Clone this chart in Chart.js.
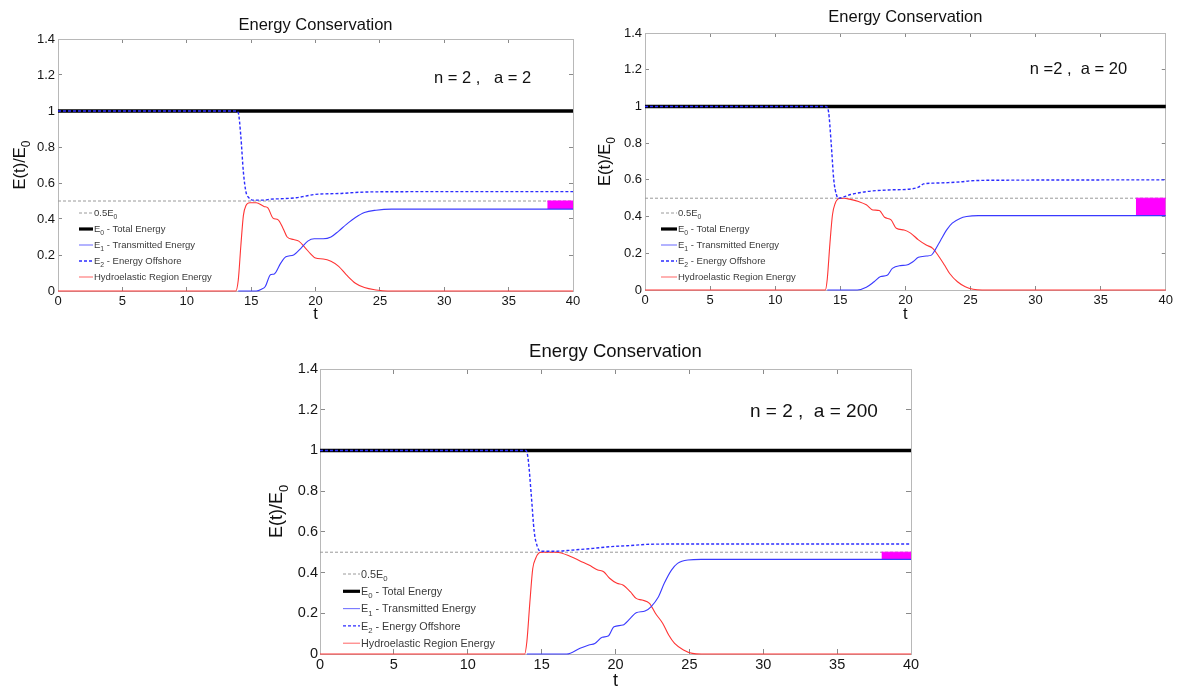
<!DOCTYPE html>
<html><head><meta charset="utf-8">
<script src="https://cdn.jsdelivr.net/npm/chart.js@4.4.1/dist/chart.umd.min.js"></script>
<style>
html,body{margin:0;padding:0;background:#fff;}
body{width:1180px;height:688px;position:relative;overflow:hidden;}
canvas{position:absolute;left:0;top:0;}
</style></head><body>
<canvas id="c1" width="1180" height="688"></canvas>
<canvas id="c2" width="1180" height="688"></canvas>
<canvas id="c3" width="1180" height="688"></canvas>
<script>
const FONT = "'Liberation Sans', Arial, Helvetica, sans-serif";

// ---- axes / labels ----
const xTicks = [0, 5, 10, 15, 20, 25, 30, 35, 40];
const yTicks = [0, 0.2, 0.4, 0.6, 0.8, 1, 1.2, 1.4];
const yTickLabels = ['0', '0.2', '0.4', '0.6', '0.8', '1', '1.2', '1.4'];
const chartTitle = 'Energy Conservation';
const xAxisLabel = 't';
const yAxisLabel = 'E(t)/E_0';
const legendLabels = ['0.5E_0', 'E_0 - Total Energy', 'E_1 - Transmitted Energy', 'E_2 - Energy Offshore', 'Hydroelastic Region Energy'];
const caseLabels = ['n = 2 ,   a = 2', 'n =2 ,  a = 20', 'n = 2 ,  a = 200'];

// ---- common series ----
const totalT = [0, 40];
const totalE = [1, 1];
const halfT = [0, 40];
const halfE = [0.5, 0.5];

// ---- a = 2 ----
const offT_a2 = [0, 13.8, 14.0, 14.2, 14.4, 14.6, 14.8, 15.1, 16.0, 16.5, 17.5, 18.5, 19.0, 20.0, 21.0, 22.0, 23.0, 24.0, 25.0, 30.0, 40];
const offE_a2 = [1, 1, 0.99, 0.86, 0.66, 0.55, 0.52, 0.505, 0.505, 0.51, 0.513, 0.518, 0.524, 0.537, 0.54, 0.542, 0.547, 0.55, 0.551, 0.552, 0.552];
const trT_a2 = [14, 15.4, 15.8, 16.1, 16.5, 16.8, 17.3, 17.7, 18.3, 18.9, 19.4, 19.9, 20.6, 21.2, 21.8, 22.4, 23.1, 23.8, 24.7, 25.9, 40];
const trE_a2 = [0, 0, 0.01, 0.025, 0.09, 0.095, 0.155, 0.19, 0.2, 0.24, 0.277, 0.29, 0.29, 0.3, 0.333, 0.37, 0.408, 0.436, 0.449, 0.455, 0.455];
const hyT_a2 = [0, 13.8, 14.0, 14.2, 14.4, 14.6, 14.9, 15.4, 16.0, 16.3, 16.7, 17.1, 17.5, 17.8, 18.3, 18.7, 19.2, 19.6, 20.0, 20.6, 21.2, 21.8, 22.4, 23.1, 23.8, 24.7, 25.6, 40];
const hyE_a2 = [0, 0, 0.06, 0.25, 0.42, 0.475, 0.49, 0.49, 0.47, 0.462, 0.405, 0.395, 0.345, 0.3, 0.286, 0.277, 0.24, 0.208, 0.183, 0.178, 0.165, 0.137, 0.09, 0.043, 0.019, 0.006, 0, 0];
const gapT_a2 = [38, 40];
const gapTop_a2 = [0.5, 0.5];
const gapBottom_a2 = 0.455;

// ---- a = 20 ----
const offT_a20 = [0, 13.9, 14.1, 14.3, 14.5, 14.7, 14.85, 15.8, 17.0, 18.7, 20.4, 21.0, 21.4, 22.1, 23.3, 24.4, 25.0, 27.3, 40];
const offE_a20 = [1, 1, 0.97, 0.8, 0.6, 0.52, 0.5, 0.52, 0.536, 0.545, 0.55, 0.56, 0.578, 0.582, 0.585, 0.59, 0.595, 0.598, 0.6];
const trT_a20 = [14, 16.3, 17.0, 17.6, 18.1, 18.6, 19.0, 19.6, 20.1, 20.6, 21.0, 21.6, 22.0, 22.3, 22.7, 23.2, 23.6, 24.2, 24.7, 25.6, 40];
const trE_a20 = [0, 0, 0.015, 0.045, 0.073, 0.08, 0.118, 0.133, 0.136, 0.155, 0.178, 0.185, 0.19, 0.22, 0.27, 0.33, 0.364, 0.39, 0.4, 0.405, 0.405];
const hyT_a20 = [0, 13.85, 14.0, 14.2, 14.4, 14.6, 14.9, 15.3, 15.7, 16.4, 17.0, 17.5, 18.0, 18.4, 18.9, 19.3, 19.9, 20.4, 21.0, 21.6, 22.1, 22.6, 23.0, 23.4, 24.0, 24.6, 25.2, 25.9, 40];
const hyE_a20 = [0, 0, 0.06, 0.25, 0.41, 0.47, 0.498, 0.5, 0.495, 0.482, 0.464, 0.436, 0.433, 0.396, 0.382, 0.336, 0.327, 0.31, 0.273, 0.245, 0.227, 0.18, 0.136, 0.09, 0.045, 0.018, 0.004, 0, 0];
const gapT_a20 = [37.7, 40];
const gapTop_a20 = [0.5, 0.5];
const gapBottom_a20 = 0.405;

// ---- a = 200 ----
const offT_a200 = [0, 13.95, 14.1, 14.3, 14.5, 14.7, 14.9, 16.0, 17.0, 18.5, 19.6, 20.8, 22.3, 23.5, 40];
const offE_a200 = [1, 1, 0.95, 0.78, 0.6, 0.53, 0.505, 0.505, 0.51, 0.519, 0.527, 0.532, 0.539, 0.54, 0.54];
const trT_a200 = [14, 16.7, 17.6, 18.2, 18.6, 19.1, 19.5, 19.9, 20.5, 21.0, 21.4, 22.0, 22.4, 22.9, 23.3, 23.8, 24.2, 24.9, 25.8, 40];
const trE_a200 = [0, 0, 0.028, 0.044, 0.052, 0.082, 0.088, 0.134, 0.142, 0.175, 0.203, 0.211, 0.232, 0.28, 0.347, 0.413, 0.445, 0.462, 0.465, 0.465];
const hyT_a200 = [0, 13.85, 14.0, 14.2, 14.4, 14.6, 14.8, 15.0, 16.0, 17.0, 17.6, 18.2, 18.8, 19.2, 19.6, 20.1, 20.5, 21.0, 21.4, 21.8, 22.3, 22.7, 23.2, 23.6, 24.0, 24.6, 25.2, 25.8, 40];
const hyE_a200 = [0, 0, 0.06, 0.25, 0.42, 0.47, 0.495, 0.5, 0.5, 0.478, 0.457, 0.437, 0.413, 0.404, 0.372, 0.347, 0.339, 0.306, 0.273, 0.265, 0.249, 0.2, 0.15, 0.093, 0.052, 0.02, 0.003, 0, 0];
const gapT_a200 = [38, 40];
const gapTop_a200 = [0.5, 0.5];
const gapBottom_a200 = 0.465;

// ---- styles ----
const STY = {
  half:  { color: '#9a9a9a', width: 1,   dash: [3, 2] },
  total: { color: '#000000', width: 3.5, dash: [] },
  tr:    { color: '#3a3aff', width: 1.1, dash: [] },
  off:   { color: '#2c2cff', width: 1.4, dash: [3, 2] },
  hy:    { color: '#ff3434', width: 1.1, dash: [] },
  gap:   '#ff00ff'
};
const legendStyles = [STY.half, STY.total, STY.tr, STY.off, STY.hy];

const LAYOUT = [
  { L: 58,  R: 573,  T: 39,  B: 291, tick: 13,   title: 16.5, titleY: 24,  xlabY: 313, ylabX: 19,  ylab: 16.5,
    caseX: 29.2, caseY: 1.19, caseSize: 16.5, legY0: -78, legDY: 16,   legX0: 21, legX1: 35, legTX: 36, legSize: 9.5, tl: 4 },
  { L: 645, R: 1170, T: 33,  B: 290, tick: 13,   title: 16.5, titleY: 16,  xlabY: 313, ylabX: 604, ylab: 16.5,
    caseX: 29.56, caseY: 1.21, caseSize: 16.5, legY0: -77, legDY: 16,  legX0: 16, legX1: 32, legTX: 33, legSize: 9.5, tl: 4 },
  { L: 320, R: 911,  T: 369, B: 654, tick: 14.5, title: 18.5, titleY: 350, xlabY: 680, ylabX: 276, ylab: 18,
    caseX: 29.1, caseY: 1.2, caseSize: 19, legY0: -80, legDY: 17.3, legX0: 23, legX1: 40, legTX: 41, legSize: 10.8, tl: 5 }
];

const SERIES = [
  { off: [offT_a2, offE_a2], tr: [trT_a2, trE_a2], hy: [hyT_a2, hyE_a2], gap: [gapT_a2, gapTop_a2, gapBottom_a2] },
  { off: [offT_a20, offE_a20], tr: [trT_a20, trE_a20], hy: [hyT_a20, hyE_a20], gap: [gapT_a20, gapTop_a20, gapBottom_a20] },
  { off: [offT_a200, offE_a200], tr: [trT_a200, trE_a200], hy: [hyT_a200, hyE_a200], gap: [gapT_a200, gapTop_a200, gapBottom_a200] }
];

function pts(t, v) { return t.map((x, i) => ({ x: x, y: v[i] })); }

function parseRich(s) {
  const out = []; let buf = '';
  for (let i = 0; i < s.length; i++) {
    if (s[i] === '_' && i + 1 < s.length) {
      if (buf) { out.push({ t: buf, sub: false }); buf = ''; }
      out.push({ t: s[i + 1], sub: true }); i++;
    } else buf += s[i];
  }
  if (buf) out.push({ t: buf, sub: false });
  return out;
}
function drawRich(ctx, s, x, yc, size, align, color) {
  const parts = parseRich(s);
  let w = 0;
  for (const p of parts) { ctx.font = (p.sub ? size * 0.72 : size) + 'px ' + FONT; w += ctx.measureText(p.t).width; }
  let cx = align === 'center' ? x - w / 2 : (align === 'right' ? x - w : x);
  const base = yc + size * 0.36;
  ctx.fillStyle = color; ctx.textBaseline = 'alphabetic'; ctx.textAlign = 'left';
  for (const p of parts) {
    const fs = p.sub ? size * 0.72 : size;
    ctx.font = fs + 'px ' + FONT;
    ctx.fillText(p.t, cx, base + (p.sub ? size * 0.3 : 0));
    cx += ctx.measureText(p.t).width;
  }
}

function decor(spec, idx) {
  return {
    id: 'decor' + idx,
    afterDraw(chart) {
      const ctx = chart.ctx, a = chart.chartArea;
      const xs = chart.scales.x, ys = chart.scales.y;
      ctx.save();
      // title
      drawRich(ctx, chartTitle, (a.left + a.right) / 2, spec.titleY, spec.title, 'center', '#111');
      // x label
      drawRich(ctx, xAxisLabel, (a.left + a.right) / 2, spec.xlabY, spec.ylab, 'center', '#111');
      // y label
      ctx.save();
      ctx.translate(spec.ylabX, (a.top + a.bottom) / 2);
      ctx.rotate(-Math.PI / 2);
      drawRich(ctx, yAxisLabel, 0, 0, spec.ylab, 'center', '#111');
      ctx.restore();
      // case label
      drawRich(ctx, caseLabels[idx], xs.getPixelForValue(spec.caseX), ys.getPixelForValue(spec.caseY), spec.caseSize, 'left', '#111');
      // legend
      for (let i = 0; i < legendLabels.length; i++) {
        const y = a.bottom + spec.legY0 + i * spec.legDY;
        const st = legendStyles[i];
        ctx.beginPath();
        ctx.setLineDash(st.dash);
        ctx.lineWidth = Math.min(st.width, 3.2);
        ctx.strokeStyle = st.color;
        ctx.globalAlpha = (i === 2 || i === 4) ? 0.7 : 1;
        ctx.moveTo(a.left + spec.legX0, y);
        ctx.lineTo(a.left + spec.legX1, y);
        ctx.stroke();
        ctx.globalAlpha = 1;
        ctx.setLineDash([]);
        drawRich(ctx, legendLabels[i], a.left + spec.legTX, y, spec.legSize, 'left', '#3a3a3a');
      }
      ctx.restore();
    }
  };
}

function lineDs(data, st, extra) {
  return Object.assign({
    data: data, borderColor: st.color, borderWidth: st.width, borderDash: st.dash,
    pointRadius: 0, fill: false, cubicInterpolationMode: 'monotone', clip: 4
  }, extra || {});
}

function makeChart(id, idx) {
  const spec = LAYOUT[idx], s = SERIES[idx];
  const tickFont = { size: spec.tick, family: FONT };
  const gridOpt = { drawOnChartArea: false, drawTicks: true, tickLength: -spec.tl, tickColor: '#8a8a8a' };
  const borderOpt = { display: true, color: '#b8b8b8', width: 1 };
  const setX = sc => { sc.ticks = xTicks.map(v => ({ value: v })); };
  const setY = sc => { sc.ticks = yTicks.map(v => ({ value: v })); };
  const datasets = [
    lineDs(pts(s.off[0], s.off[1]), STY.off),
    lineDs(pts(s.tr[0], s.tr[1]), STY.tr),
    lineDs(pts(s.hy[0], s.hy[1]), STY.hy),
    lineDs(pts(totalT, totalE), STY.total, { cubicInterpolationMode: 'default', tension: 0 }),
    { data: pts(s.gap[0], s.gap[1]), borderColor: STY.gap, backgroundColor: STY.gap, borderWidth: 1,
      pointRadius: 0, fill: { value: s.gap[2] }, tension: 0, clip: 4 },
    lineDs(pts(halfT, halfE), STY.half, { cubicInterpolationMode: 'default', tension: 0 })
  ];
  return new Chart(document.getElementById(id), {
    type: 'line',
    data: { datasets: datasets },
    options: {
      responsive: false, animation: false, events: [], devicePixelRatio: 1,
      layout: { autoPadding: false, padding: { left: spec.L - 40, right: 1180 - spec.R, top: spec.T, bottom: 688 - spec.B - 30 } },
      plugins: { legend: { display: false }, tooltip: { enabled: false }, title: { display: false } },
      scales: {
        x: { type: 'linear', position: 'bottom', min: 0, max: 40, afterBuildTicks: setX,
             ticks: { font: tickFont, color: '#151515', padding: 7, maxRotation: 0, autoSkip: false, callback: v => String(v) },
             grid: gridOpt, border: borderOpt, afterFit: sc => { sc.height = 30; } },
        x2: { type: 'linear', position: 'top', min: 0, max: 40, afterBuildTicks: setX,
             ticks: { display: false }, grid: gridOpt, border: borderOpt, afterFit: sc => { sc.height = 0; } },
        y: { type: 'linear', position: 'left', min: 0, max: 1.4, afterBuildTicks: setY,
             ticks: { font: tickFont, color: '#151515', padding: 7, autoSkip: false, callback: v => yTickLabels[yTicks.indexOf(v)] },
             grid: gridOpt, border: borderOpt, afterFit: sc => { sc.width = 40; } },
        y2: { type: 'linear', position: 'right', min: 0, max: 1.4, afterBuildTicks: setY,
             ticks: { display: false }, grid: gridOpt, border: borderOpt, afterFit: sc => { sc.width = 0; } }
      }
    },
    plugins: [decor(spec, idx)]
  });
}

makeChart('c1', 0);
makeChart('c2', 1);
makeChart('c3', 2);
</script>
</body></html>
